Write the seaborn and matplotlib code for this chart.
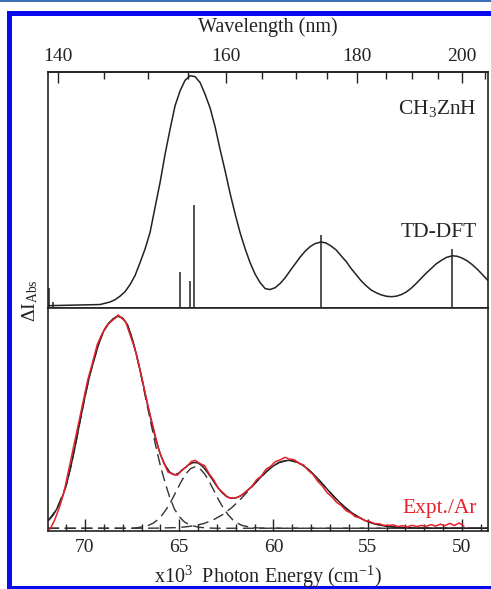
import numpy as np
import matplotlib
matplotlib.use("Agg")
import matplotlib.pyplot as plt
from matplotlib.patches import Rectangle
import seaborn as sns

# Photon energy in units of 10^3 cm^-1, intensities in % of the strongest peak

# TD-DFT broadened spectrum (top panel)
calc_E = [71.96, 69.2, 68.67, 68.4, 68.14, 67.87, 67.61, 67.34, 67.08, 66.81,
          66.55, 66.28, 66.01, 65.75, 65.48, 65.22, 64.95, 64.69, 64.42, 64.16,
          63.89, 63.63, 63.36, 63.10, 62.83, 62.57, 62.30, 62.03, 61.77, 61.50,
          61.24, 60.97, 60.71, 60.44, 60.18, 59.91, 59.65, 59.38, 59.12, 58.85,
          58.58, 58.32, 58.05, 57.79, 57.47, 57.20, 56.94, 56.67, 56.41, 56.14,
          55.88, 55.61, 55.35, 55.08, 54.82, 54.55, 54.29, 54.02, 53.75, 53.49,
          53.22, 52.96, 52.69, 52.43, 52.16, 51.90, 51.63, 51.37, 51.10, 50.83,
          50.52, 50.25, 49.99, 49.72, 49.46, 49.19, 48.93, 48.61]
calc_I = [0.4, 0.9, 2.0, 3.0, 4.5, 6.5, 9.5, 13.5, 19, 25,
          32, 43, 54, 66, 77, 87, 93.5, 98, 100, 99.6,
          97, 92, 86, 78, 68, 59, 49, 40, 32, 25,
          19, 14, 10.4, 7.8, 7.4, 8.2, 10, 12.5, 15.5, 18.5,
          21.5, 24, 26, 27.3, 28, 27.5, 26.2, 24.5, 22, 19.5,
          16.5, 13.8, 11.2, 9, 7.2, 6, 5.1, 4.5, 4.3, 4.5,
          5.2, 6.3, 8, 10, 12.3, 14.5, 16.5, 18.5, 20, 21.3,
          22, 21.8, 21, 19.8, 18.2, 16.2, 14, 11.2]

# TD-DFT transitions (sticks)
stick_E = [71.91, 71.70, 64.95, 64.42, 64.21, 57.47, 50.52]
stick_I = [8, 2, 15, 11, 44, 31, 25]

# Experimental spectrum in Ar matrix (bottom panel)
expt_E = [71.85, 71.6, 71.35, 71.1, 70.85, 70.6, 70.35, 70.1, 69.85, 69.6,
          69.35, 69.1, 68.85, 68.6, 68.4, 68.24, 68.05, 67.85, 67.6, 67.35,
          67.1, 66.85, 66.6, 66.35, 66.1, 65.85, 65.6, 65.35, 65.1, 64.85,
          64.6, 64.35, 64.15, 63.9, 63.65, 63.4, 63.15, 62.9, 62.65, 62.4,
          62.15, 61.9, 61.65, 61.4, 61.15, 60.9, 60.65, 60.4, 60.15, 59.9,
          59.65, 59.4, 59.15, 58.9, 58.65, 58.4, 58.15, 57.9, 57.65, 57.4,
          57.15, 56.9, 56.65, 56.4, 56.15, 55.9, 55.65, 55.4, 55.15, 54.9,
          54.65, 54.4, 54.15, 53.9, 53.65, 53.4, 53.15, 52.9, 52.65, 52.4,
          52.15, 51.9, 51.65, 51.4, 51.15, 50.9, 50.65, 50.4, 50.15, 49.9]
expt_I = [-0.5, 4, 10, 17.5, 28, 38.5, 49, 59.5, 70, 78,
          86.5, 91.5, 95.5, 97.5, 99, 100.5, 99, 97.5, 91, 84.5,
          75.5, 65.5, 55.5, 46.5, 37.5, 31.5, 26.5, 25.5, 25, 27.5,
          29, 31.5, 32, 30.5, 29.5, 25.5, 22.5, 18.5, 16.5, 14.5,
          14.2, 14.6, 15.8, 17.8, 19.6, 22.8, 24.6, 27.8, 29.2, 31.4,
          32.2, 33.4, 32.6, 32.3, 30.6, 29.8, 27.2, 25.3, 22.1, 19.8,
          16.7, 14.8, 12.2, 10.7, 8.3, 7.2, 5.4, 4.9, 3.6, 3.2,
          2.2, 2.1, 1.4, 1.3, 1.6, 0.8, 1.2, 0.6, 1.4, 0.8,
          1.3, 0.9, 1.7, 1.0, 1.9, 1.2, 2.3, 1.3, 2.5, 1.0]

# Gaussian components of the fit (dashed) and their sum (solid)
g1_E = [71.96, 71.5, 71.0, 70.75, 70.5, 70.25, 70.0, 69.75, 69.5, 69.25,
        69.0, 68.75, 68.5, 68.24, 68.0, 67.75, 67.5, 67.25, 67.0, 66.75,
        66.5, 66.25, 66.0, 65.75, 65.5, 65.25, 65.0, 64.75, 64.5, 64.0,
        63.5, 63.0, 48.6]
g1_I = [3.5, 9, 20, 29, 39.5, 51, 62, 72, 80, 87.5,
        93, 96.5, 98.8, 100, 99, 96, 89.5, 81, 71, 60,
        49.5, 39, 29.5, 21.5, 14.5, 9, 5.5, 3.2, 1.8, 0.5,
        0.1, 0, 0]
g2_E = [71.96, 67.5, 67.15, 66.65, 66.4, 66.15, 65.9, 65.65, 65.4, 65.15,
        64.9, 64.65, 64.4, 64.15, 63.9, 63.65, 63.4, 63.15, 62.9, 62.65,
        62.4, 62.15, 61.9, 61.65, 61.15, 60.65, 59.5, 48.6]
g2_I = [0, 0, 0.32, 1.3, 2.3, 3.9, 6.3, 9.4, 13.2, 17.6,
        21.9, 25.6, 28.1, 29, 28.1, 25.6, 21.9, 17.6, 13.2, 9.4,
        6.3, 3.9, 2.3, 1.3, 0.32, 0.06, 0, 0]
g3_E = [71.96, 67.5, 66.2, 65.2, 64.7, 64.2, 63.7, 63.2, 62.7, 62.2,
        61.7, 61.2, 60.7, 60.2, 59.7, 59.2, 58.7, 58.2, 57.7, 57.2,
        56.7, 56.2, 55.7, 55.2, 54.7, 54.2, 53.7, 53.2, 52.2, 48.6]
g3_I = [0, 0, 0.05, 0.28, 0.6, 1.2, 2.2, 3.9, 6.4, 9.8,
        14.1, 18.9, 23.8, 28.1, 31.0, 32, 31.0, 28.1, 23.8, 18.9,
        14.1, 9.8, 6.4, 3.9, 2.2, 1.2, 0.6, 0.28, 0.05, 0]
fit_E = [71.96, 71.7, 71.5, 71.25, 71.0, 70.75, 70.5, 70.25, 70.0, 69.75,
         69.5, 69.25, 69.0, 68.75, 68.5, 68.24, 68.0, 67.75, 67.5, 67.25,
         67.0, 66.75, 66.5, 66.25, 66.0, 65.75, 65.5, 65.25, 65.0, 64.75,
         64.5, 64.25, 64.0, 63.75, 63.5, 63.25, 63.0, 62.75, 62.5, 62.25,
         62.0, 61.75, 61.5, 61.25, 61.0, 60.75, 60.5, 60.25, 60.0, 59.75,
         59.5, 59.2, 59.0, 58.75, 58.5, 58.25, 58.0, 57.75, 57.5, 57.25,
         57.0, 56.75, 56.5, 56.25, 56.0, 55.75, 55.5, 55.25, 55.0, 54.5,
         54.0, 53.3, 52.3, 51.3, 50.0, 48.6]
fit_I = [3.5, 6, 9, 13.5, 20, 29, 39.5, 51, 62, 72,
         80, 87.5, 93, 96.5, 98.8, 100, 99, 96, 89.5, 81.2,
         71.5, 61, 51.3, 42.2, 34.8, 29.7, 26.4, 25.1, 26.1, 28.1,
         29.9, 31.0, 30.8, 29.1, 26.3, 23.1, 19.7, 17.0, 15.0, 14.1,
         14.3, 15.2, 16.9, 18.8, 21.1, 23.4, 25.6, 27.7, 29.4, 30.8,
         31.6, 32, 31.8, 31.2, 30.0, 28.4, 26.5, 24.3, 21.9, 19.4,
         16.9, 14.5, 12.3, 10.2, 8.3, 6.7, 5.3, 4.1, 3.1, 1.75,
         0.9, 0.35, 0.06, 0, 0, 0]

top_ticks_nm = [140, 160, 180, 200]
bottom_ticks = [70, 65, 60, 55, 50]

sns.set_style("white")
plt.rcParams['font.family'] = ['Liberation Serif', 'DejaVu Serif']
plt.rcParams['mathtext.fontset'] = 'custom'
plt.rcParams['mathtext.rm'] = 'Liberation Serif'
plt.rcParams['mathtext.it'] = 'Liberation Serif:italic'

W, H = 491, 589
fig = plt.figure(figsize=(W / 100, H / 100), dpi=100)

# blue frame of the figure
blue = '#0a0af0'
fig.add_artist(Rectangle((0, 1 - 2 / H), 1, 2 / H, transform=fig.transFigure, color='#3c6fb4', lw=0))
fig.add_artist(Rectangle((7 / W, 1 - 16 / H), 1, 5 / H, transform=fig.transFigure, color=blue, lw=0))
fig.add_artist(Rectangle((7 / W, 0), 5 / W, 1 - 11 / H, transform=fig.transFigure, color=blue, lw=0))
fig.add_artist(Rectangle((7 / W, 0), 1, 3 / H, transform=fig.transFigure, color=blue, lw=0))

L, R = 48 / W, 488 / W
ax1 = fig.add_axes([L, 1 - 308 / H, R - L, 236 / H])
ax2 = fig.add_axes([L, 1 - 531 / H, R - L, 223 / H], sharex=ax1)

ink = '#222222'
for ax in (ax1, ax2):
    for s in ax.spines.values():
        s.set_linewidth(1.2)
        s.set_color(ink)

# top panel
sns.lineplot(x=calc_E, y=calc_I, ax=ax1, color=ink, lw=1.1, sort=False, estimator=None)
ax1.vlines(stick_E, 0, stick_I, color=ink, lw=1.1)
ax1.set_xlim(71.96, 48.62)
ax1.set_ylim(-0.6, 101.6)
ax1.tick_params(axis='both', which='both', bottom=False, top=False, left=False,
                labelbottom=False, labelleft=False)
ax1.set_xlabel('')
ax1.set_ylabel('')
ax1.text(0.975, 0.847, r'CH$_3$ZnH', transform=ax1.transAxes, ha='right', va='center', fontsize=15.5)
ax1.text(0.975, 0.318, 'TD-DFT', transform=ax1.transAxes, ha='right', va='center', fontsize=15.5)

secax = ax1.secondary_xaxis('top', functions=(lambda e: 1e4 / np.maximum(np.asarray(e, float), 1e-3),
                                              lambda w: 1e4 / np.maximum(np.asarray(w, float), 1e-3)))
secax.set_xticks(top_ticks_nm)
secax.set_xticks(np.arange(140, 206, 5), minor=True)
secax.tick_params(which='major', direction='in', length=8, width=1.0, pad=5, labelsize=14, colors=ink)
secax.tick_params(which='minor', direction='in', length=5, width=1.0, colors=ink)
secax.spines['top'].set_linewidth(1.2)

# bottom panel
dash = (8, 4)
for gE, gI in ((g1_E, g1_I), (g2_E, g2_I), (g3_E, g3_I)):
    ax2.plot(gE, gI, color='#333333', lw=1.0, dashes=dash)
sns.lineplot(x=fit_E, y=fit_I, ax=ax2, color=ink, lw=1.1, sort=False, estimator=None)
sns.lineplot(x=expt_E, y=expt_I, ax=ax2, color='#e8202c', lw=1.1, sort=False, estimator=None)
ax2.set_ylim(-1.3, 103.8)
ax2.set_xticks(bottom_ticks)
ax2.set_xticks(np.arange(49, 72, 1), minor=True)
ax2.tick_params(axis='x', which='major', direction='in', length=9, width=1.0, pad=6,
                labelsize=14, bottom=True, top=False, colors=ink)
ax2.tick_params(axis='x', which='minor', direction='in', length=5, width=1.0, bottom=True, top=False)
ax2.tick_params(axis='y', left=False, labelleft=False)
ax2.set_xlabel('')
ax2.set_ylabel('')
ax2.text(0.975, 0.099, 'Expt./Ar', transform=ax2.transAxes, ha='right', va='center',
         fontsize=15.5, color='#e8202c')

fig.text(268 / W, 1 - 27 / H, 'Wavelength (nm)', ha='center', va='center', fontsize=14.5, color=ink)
fig.text(268 / W, 1 - 577 / H, r'x10$^3$  Photon Energy (cm$^{-1}$)', ha='center', va='center',
         fontsize=14.5, color=ink)
fig.text(30 / W, 1 - 301 / H, r'$\Delta$I$_{\rm Abs}$', ha='center', va='center', rotation=90,
         fontsize=14, color=ink)

fig.savefig('out.png', dpi=100)
